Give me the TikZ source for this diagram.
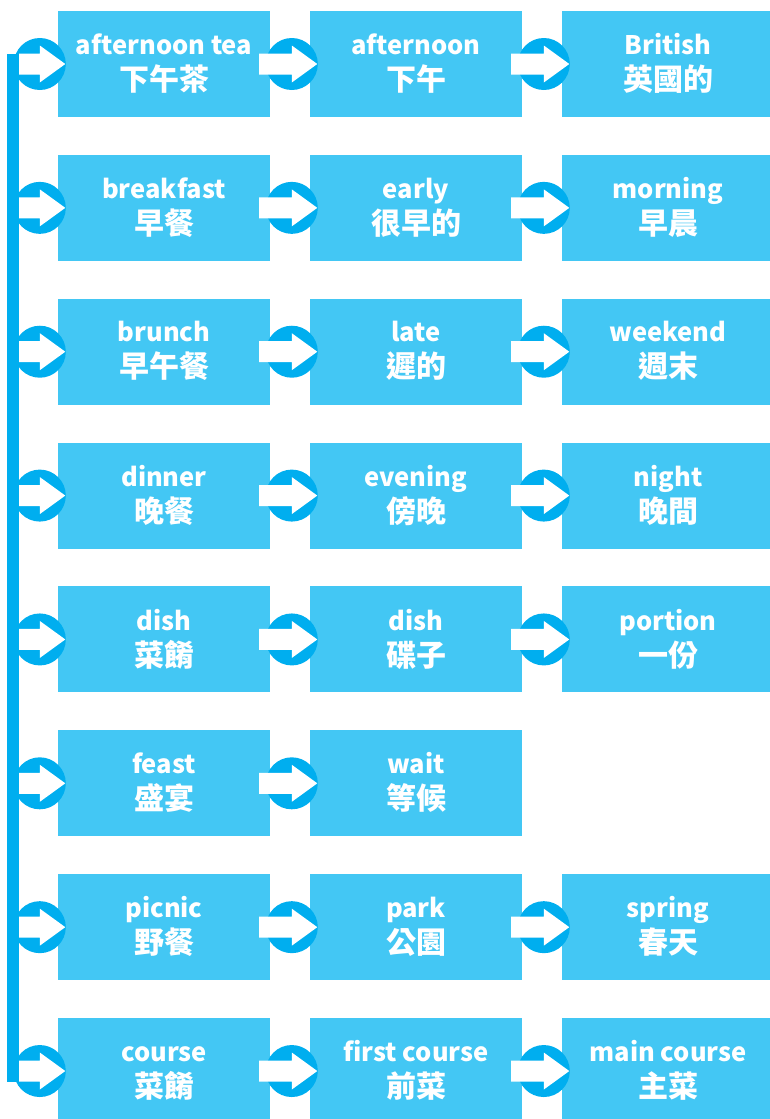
\documentclass[tikz,border=0pt]{standalone}
\usepackage{fontspec}
\setmainfont{Noto Sans CJK TC}
\usetikzlibrary{calc}

\begin{document}
\begin{tikzpicture}[x=1pt,y=-1pt]
  \definecolor{cardblue}{RGB}{67,199,244}
  \definecolor{ringblue}{RGB}{0,174,239}
  \def\dy{143.86}
  \tikzset{word/.style={rectangle,fill=cardblue,minimum width=212pt,minimum height=106pt,
      inner sep=0pt,text=white,align=center,font=\bfseries\fontsize{25.5}{36}\selectfont}}
  \newcommand{\word}[5]{% name, x, row, english, chinese
    \node[word] (#1) at (#2,64+\dy*#3-\dy) {\rule{0pt}{20pt}#4\\{\fontsize{30}{36}\selectfont #5}\rule[-4pt]{0pt}{4pt}};}
  \newcommand{\pointer}[2]{% start, target box
    \fill[ringblue] ($(#2.west)+(-18,0)$) circle (26);
    \fill[white] ($(#1)+(0,-10.5)$) -- ($(#2.west)+(-18,-10.5)$) -- ($(#2.west)+(-18,-18.5)$)
      -- ($(#2.west)+(7.5,0)$) -- ($(#2.west)+(-18,18.5)$) -- ($(#2.west)+(-18,10.5)$)
      -- ($(#1)+(0,10.5)$) -- cycle;}
  \useasboundingbox (0,0) rectangle (770,1119);

  % cards
  \word{w1a}{164}{1}{afternoon tea}{下午茶}
  \word{w1b}{416}{1}{afternoon}{下午}
  \word{w1c}{668}{1}{British}{英國的}
  \word{w2a}{164}{2}{breakfast}{早餐}
  \word{w2b}{416}{2}{early}{很早的}
  \word{w2c}{668}{2}{morning}{早晨}
  \word{w3a}{164}{3}{brunch}{早午餐}
  \word{w3b}{416}{3}{late}{遲的}
  \word{w3c}{668}{3}{weekend}{週末}
  \word{w4a}{164}{4}{dinner}{晚餐}
  \word{w4b}{416}{4}{evening}{傍晚}
  \word{w4c}{668}{4}{night}{晚間}
  \word{w5a}{164}{5}{dish}{菜餚}
  \word{w5b}{416}{5}{dish}{碟子}
  \word{w5c}{668}{5}{portion}{一份}
  \word{w6a}{164}{6}{feast}{盛宴}
  \word{w6b}{416}{6}{wait}{等候}
  \word{w7a}{164}{7}{picnic}{野餐}
  \word{w7b}{416}{7}{park}{公園}
  \word{w7c}{668}{7}{spring}{春天}
  \word{w8a}{164}{8}{course}{菜餚}
  \word{w8b}{416}{8}{first course}{前菜}
  \word{w8c}{668}{8}{main course}{主菜}

  % spine
  \foreach \r in {1,...,8}
    \coordinate (s\r) at (19,64+\dy*\r-\dy);
  \fill[ringblue] ($(s1)+(-12,-10.5)$) rectangle ($(s8)+(0,10.5)$);

  % arrows
  \foreach \r in {1,...,8}{
    \coordinate (t\r a) at ($(w\r a.east)+(-11,0)$);
    \pointer{s\r}{w\r a}
    \pointer{t\r a}{w\r b}}
  \foreach \r in {1,2,3,4,5,7,8}{
    \coordinate (t\r b) at ($(w\r b.east)+(-11,0)$);
    \pointer{t\r b}{w\r c}}
\end{tikzpicture}
\end{document}
